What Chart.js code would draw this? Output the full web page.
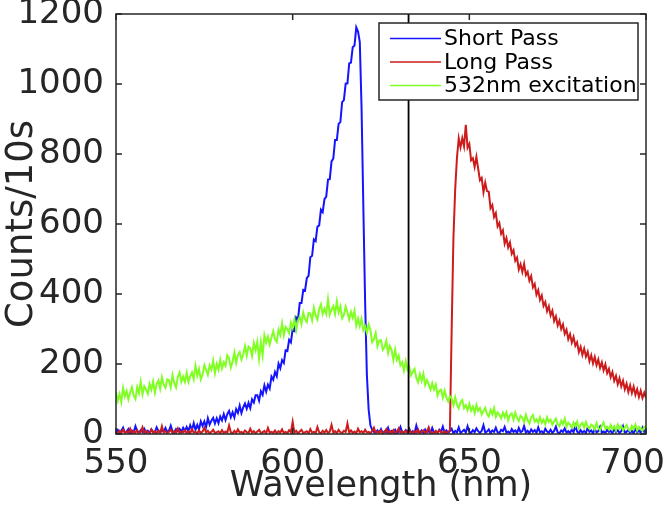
<!DOCTYPE html>
<html>
<head>
<meta charset="utf-8">
<script src="https://cdn.jsdelivr.net/npm/chart.js@4"></script>
<style>
html,body{margin:0;padding:0;background:#fff;}
#c{display:block;}
</style>
</head>
<body>
<canvas id="c" width="664" height="508"></canvas>
<script>
// ---- data (0.5 nm steps) ----
const wavelength = [
550,550.5,551,551.5,552,552.5,553,553.5,554,554.5,555,555.5,556,556.5,557,557.5,558,558.5,559,559.5,
560,560.5,561,561.5,562,562.5,563,563.5,564,564.5,565,565.5,566,566.5,567,567.5,568,568.5,569,569.5,
570,570.5,571,571.5,572,572.5,573,573.5,574,574.5,575,575.5,576,576.5,577,577.5,578,578.5,579,579.5,
580,580.5,581,581.5,582,582.5,583,583.5,584,584.5,585,585.5,586,586.5,587,587.5,588,588.5,589,589.5,
590,590.5,591,591.5,592,592.5,593,593.5,594,594.5,595,595.5,596,596.5,597,597.5,598,598.5,599,599.5,
600,600.5,601,601.5,602,602.5,603,603.5,604,604.5,605,605.5,606,606.5,607,607.5,608,608.5,609,609.5,
610,610.5,611,611.5,612,612.5,613,613.5,614,614.5,615,615.5,616,616.5,617,617.5,618,618.5,619,619.5,
620,620.5,621,621.5,622,622.5,623,623.5,624,624.5,625,625.5,626,626.5,627,627.5,628,628.5,629,629.5,
630,630.5,631,631.5,632,632.5,633,633.5,634,634.5,635,635.5,636,636.5,637,637.5,638,638.5,639,639.5,
640,640.5,641,641.5,642,642.5,643,643.5,644,644.5,645,645.5,646,646.5,647,647.5,648,648.5,649,649.5,
650,650.5,651,651.5,652,652.5,653,653.5,654,654.5,655,655.5,656,656.5,657,657.5,658,658.5,659,659.5,
660,660.5,661,661.5,662,662.5,663,663.5,664,664.5,665,665.5,666,666.5,667,667.5,668,668.5,669,669.5,
670,670.5,671,671.5,672,672.5,673,673.5,674,674.5,675,675.5,676,676.5,677,677.5,678,678.5,679,679.5,
680,680.5,681,681.5,682,682.5,683,683.5,684,684.5,685,685.5,686,686.5,687,687.5,688,688.5,689,689.5,
690,690.5,691,691.5,692,692.5,693,693.5,694,694.5,695,695.5,696,696.5,697,697.5,698,698.5,699,699.5,
700];

const shortPass = [
6,12,3,9,18,4,7,14,2,10,5,22,8,3,11,6,15,4,9,2,
13,7,4,19,9,3,12,6,17,5,10,24,7,3,14,8,15,6,18,9,
20,8,25,12,31,12,26,13,36,23,36,20,45,27,38,46,30,45,31,50,
39,57,40,57,66,48,62,47,71,60,81,60,76,87,72,89,74,99,90,111,
111,95,122,112,139,121,141,130,164,155,177,165,201,188,211,203,239,237,269,262,
300,295,333,327,374,374,412,410,445,452,505,509,556,551,592,596,641,634,671,678,
727,728,779,787,840,840,886,891,948,954,1001,1002,1059,1061,1105,1110,1162,1150,1120,930,
650,380,170,70,25,12,6,3,10,4,14,2,8,5,18,3,9,4,12,2,
7,20,5,3,11,6,15,3,8,2,24,6,4,10,3,13,5,9,2,17,
4,7,3,12,6,21,4,10,3,8,15,2,9,5,19,3,7,12,4,22,
6,3,11,5,16,8,3,9,25,4,7,13,2,10,6,18,5,3,12,8,
20,4,7,2,14,6,10,3,17,5,8,23,4,9,2,13,6,11,3,19,
5,8,2,15,7,4,12,3,9,21,5,2,10,6,16,4,8,3,13,5,
24,7,2,11,4,9,3,18,6,10,2,14,5,8,20,4,7,3,12,6,
9,2,16,5,11,3,8,22,4,6,13,3,9,2,15,5,10,4,18,6,
12];

const longPass = [
5,2,9,3,12,4,7,2,15,3,8,4,11,2,6,19,3,9,5,2,
13,4,7,2,10,3,22,5,8,2,6,12,3,9,4,16,2,7,5,11,
3,8,2,14,4,6,2,10,3,7,18,4,9,2,6,12,3,5,8,2,
11,3,7,4,24,5,2,9,3,13,4,6,2,10,5,3,15,4,8,2,
7,12,3,5,9,2,17,4,6,3,10,2,8,4,13,3,6,2,11,5,
35,4,9,2,7,12,3,5,8,2,14,4,6,3,20,5,2,9,4,11,
3,7,26,4,8,2,12,5,3,9,6,30,4,10,3,7,2,15,5,8,
3,12,4,6,2,9,18,3,7,4,10,2,5,14,3,8,4,11,2,6,
16,3,7,4,9,2,12,5,3,8,4,13,2,6,10,3,7,19,4,5,
2,9,3,11,5,4,8,2,6,10,300,560,700,790,845,819,845,822,883,818,
829,782,788,763,792,758,725,732,691,718,694,692,645,654,620,631,593,603,572,582,
544,560,533,547,515,525,495,504,470,485,463,486,454,463,438,451,419,429,398,411,
383,396,366,377,351,365,339,352,323,336,310,324,300,313,286,298,271,285,261,277,
252,262,234,249,226,244,221,235,208,225,202,220,197,213,189,205,182,199,174,186,
162,177,152,166,142,159,136,152,128,144,120,139,117,135,112,128,106,124,103,118,
103];

const excitation532 = [
120,95,114,91,131,108,123,99,118,134,110,100,134,117,149,113,136,127,115,143,
127,150,118,143,153,130,162,141,132,156,153,133,168,145,133,163,176,149,164,149,
175,149,165,176,157,195,167,186,156,169,197,184,169,196,184,210,174,200,184,212,
187,205,195,225,217,190,207,233,203,226,234,213,227,251,224,250,245,223,260,240,
264,215,262,225,282,261,278,256,276,294,271,263,298,283,316,282,306,299,288,318,
303,328,297,324,335,314,347,328,320,346,344,325,361,339,327,357,370,343,358,343,
385,341,355,365,343,379,348,365,331,340,364,347,327,349,332,352,310,330,308,329,
297,308,290,313,297,262,271,289,251,267,268,241,248,266,232,252,240,211,241,212,
224,196,205,181,208,184,192,168,178,186,160,148,171,152,172,140,154,142,127,145,
127,141,110,124,127,104,124,104,93,108,101,82,105,84,73,91,97,74,82,68,
86,67,78,60,83,66,74,56,66,75,57,50,69,56,74,49,62,55,45,61,
48,62,39,54,59,41,61,46,37,52,47,34,55,39,30,47,54,35,42,32,
48,32,41,28,48,35,41,27,36,44,28,22,38,28,44,21,32,27,18,33,
22,35,16,27,32,18,34,21,15,27,23,13,31,17,11,24,33,15,21,13,
26,13,22,10,27,16,23,11,18,26,13,9,23,14,27,10,20,15,9,21,
19];

const laserLine = [632.8];
const xTicks = [550, 600, 650, 700];
const yTicks = [0, 200, 400, 600, 800, 1000, 1200];
const seriesNames = ['Short Pass', 'Long Pass', '532nm excitation'];
const seriesColors = ['#1414ff', '#cc1c1c', '#80ff22'];

// ---- build datasets ----
const toPts = arr => arr.map((v, i) => ({x: wavelength[i], y: v}));
const ink = '#262626';
const FONT = 'DejaVu Sans';

const framePlugin = {
  id: 'frame',
  afterDraw(chart) {
    const {ctx, chartArea: a, scales} = chart;
    ctx.save();
    ctx.strokeStyle = ink;
    ctx.lineWidth = 1.5;
    ctx.strokeRect(a.left, a.top, a.right - a.left, a.bottom - a.top);
    const tl = 6;
    ctx.beginPath();
    xTicks.forEach(t => {
      const px = scales.x.getPixelForValue(t);
      ctx.moveTo(px, a.bottom); ctx.lineTo(px, a.bottom - tl);
      ctx.moveTo(px, a.top); ctx.lineTo(px, a.top + tl);
    });
    yTicks.forEach(t => {
      const py = scales.y.getPixelForValue(t);
      ctx.moveTo(a.left, py); ctx.lineTo(a.left + tl, py);
      ctx.moveTo(a.right, py); ctx.lineTo(a.right - tl, py);
    });
    ctx.stroke();
    // x tick labels (last one kept inside the figure, as in the reference)
    ctx.font = '34px "' + FONT + '"';
    ctx.fillStyle = ink;
    ctx.textAlign = 'center';
    ctx.textBaseline = 'alphabetic';
    xTicks.forEach(t => {
      const s = String(t);
      const w = ctx.measureText(s).width;
      const px = Math.min(scales.x.getPixelForValue(t), chart.width - w / 2 + 1);
      ctx.fillText(s, px, 473);
    });
    // legend
    const bx = 379, by = 23, bw = 259, bh = 77;
    ctx.fillStyle = '#fff';
    ctx.fillRect(bx, by, bw, bh);
    ctx.strokeStyle = ink;
    ctx.lineWidth = 1.5;
    ctx.strokeRect(bx, by, bw, bh);
    const rows = [38.5, 62, 85.5];
    ctx.font = '22px "' + FONT + '"';
    ctx.textBaseline = 'middle';
    ctx.textAlign = 'left';
    seriesNames.forEach((n, i) => {
      ctx.strokeStyle = seriesColors[i];
      ctx.lineWidth = 1.5;
      ctx.beginPath();
      ctx.moveTo(390, rows[i]); ctx.lineTo(441, rows[i]);
      ctx.stroke();
      ctx.fillStyle = '#000';
      ctx.fillText(n, 444, rows[i] + 1);
    });
    ctx.restore();
  }
};

new Chart(document.getElementById('c'), {
  type: 'line',
  data: {
    datasets: [
      {label: 'laser', data: [{x: laserLine[0], y: 0}, {x: laserLine[0], y: 1200}],
       borderColor: '#000', borderWidth: 1.8, pointRadius: 0, order: 0},
      {label: seriesNames[2], data: toPts(excitation532), borderColor: seriesColors[2],
       borderWidth: 2, pointRadius: 0, order: 1},
      {label: seriesNames[1], data: toPts(longPass), borderColor: seriesColors[1],
       borderWidth: 2, pointRadius: 0, order: 2},
      {label: seriesNames[0], data: toPts(shortPass), borderColor: seriesColors[0],
       borderWidth: 2, pointRadius: 0, order: 3}
    ]
  },
  options: {
    responsive: false,
    animation: false,
    devicePixelRatio: 1,
    layout: {padding: {left: 0, right: 18, top: 14, bottom: 0}},
    plugins: {legend: {display: false}, tooltip: {enabled: false}},
    elements: {line: {tension: 0}},
    scales: {
      x: {
        type: 'linear', min: 550, max: 700,
        afterBuildTicks: s => { s.ticks = xTicks.map(v => ({value: v})); },
        afterFit: s => { s.height = 74; s.paddingLeft = 0; s.paddingRight = 0; },
        grid: {display: false, drawTicks: false},
        border: {display: false},
        ticks: {display: false},
        title: {display: true, text: 'Wavelength (nm)', font: {family: FONT, size: 35}, color: ink, padding: {top: 0, bottom: 0}}
      },
      y: {
        type: 'linear', min: 0, max: 1200,
        afterBuildTicks: s => { s.ticks = yTicks.map(v => ({value: v})); },
        afterFit: s => { s.width = 116; s.paddingTop = 0; s.paddingBottom = 0; },
        grid: {display: false, drawTicks: false},
        border: {display: false},
        ticks: {font: {family: FONT, size: 34}, color: ink, padding: 12, autoSkip: false,
                callback: v => String(v)},
        title: {display: true, text: 'Counts/10s', font: {family: FONT, size: 37}, color: ink, padding: {top: 0, bottom: 0}}
      }
    }
  },
  plugins: [framePlugin]
});
</script>
</body>
</html>
